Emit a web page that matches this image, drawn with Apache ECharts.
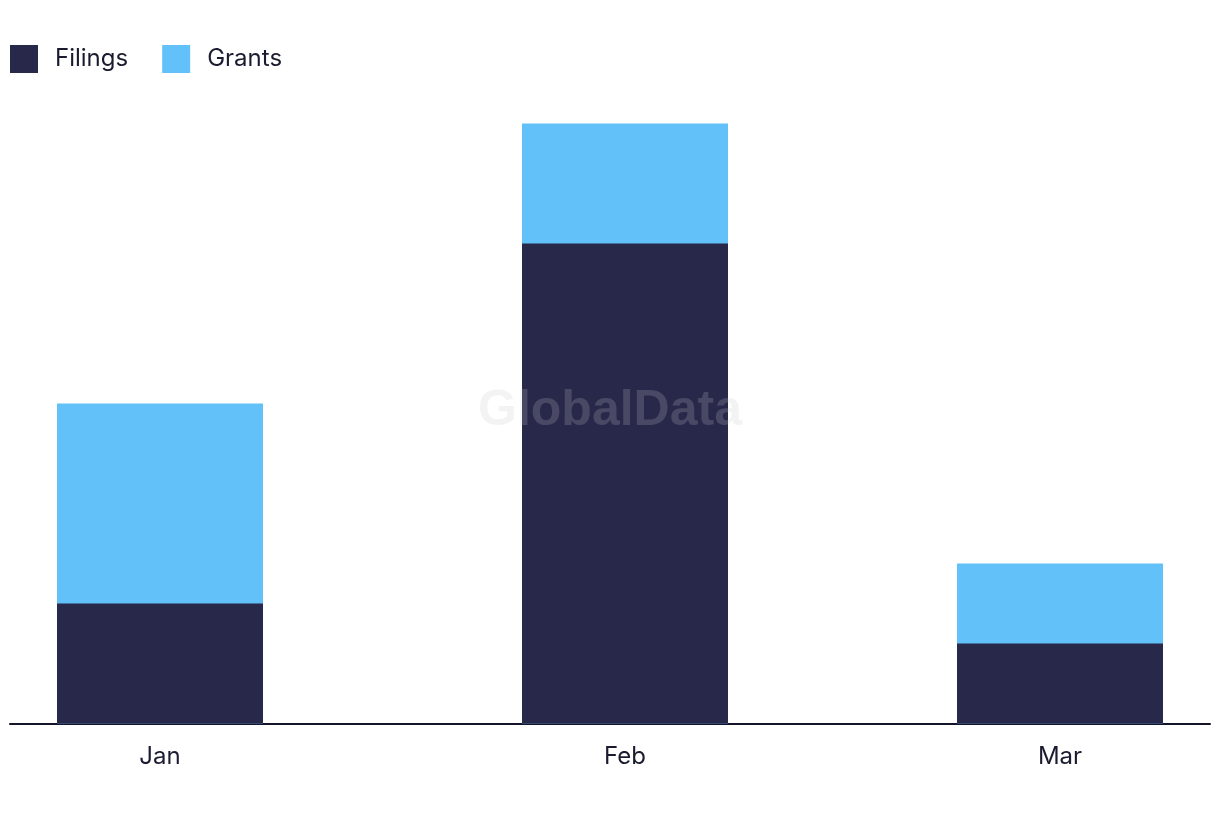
<!DOCTYPE html>
<html>
<head>
<meta charset="utf-8">
<script src="https://cdn.jsdelivr.net/npm/echarts@6/dist/echarts.min.js"></script>
<style>html,body{margin:0;padding:0;background:#fff}#c{width:1220px;height:822px}</style>
</head>
<body>
<div id="c"></div>
<script>
// Data
const monthDates = ['2024-01-01', '2024-02-01', '2024-03-01'];
const monthLabels = ['Jan', 'Feb', 'Mar'];
const filings = [3, 12, 2];
const grants = [5, 3, 2];
const seriesNames = ['Filings', 'Grants'];
const axisStart = '2023-12-22';
const axisEnd = '2024-03-11';

const DAY = 86400000;
const toDay = s => { const p = s.split('-').map(Number); return Math.round(Date.UTC(p[0], p[1] - 1, p[2]) / DAY); };
const base = toDay(monthDates[0]);
const xs = monthDates.map(d => toDay(d) - base);
const labelByX = {};
xs.forEach((x, i) => labelByX[x] = monthLabels[i]);
// stacked top of each column (grants sit on top of filings)
const stackTop = filings.map((f, i) => f + grants[i]);

const chart = echarts.init(document.getElementById('c'), null, {renderer: 'canvas'});
const textColor = '#1b1b30';
chart.setOption({
  animation: false,
  color: ['#28284b', '#62c1f9'],
  legend: {
    left: 10, top: 45, padding: 0,
    itemWidth: 28, itemHeight: 28, itemGap: 34,
    icon: 'rect',
    textStyle: {fontFamily: 'Inter', fontSize: 24, color: textColor, padding: [0, 0, 0, 12]},
    data: seriesNames
  },
  grid: {left: 10, right: 10, top: 123.5, bottom: 98.5, containLabel: false},
  xAxis: {
    type: 'value',
    min: toDay(axisStart) - base,
    max: toDay(axisEnd) - base,
    axisLine: {show: true, lineStyle: {color: '#15152a', width: 2}},
    axisTick: {show: false},
    splitLine: {show: false},
    axisLabel: {
      customValues: xs,
      formatter: v => labelByX[v] || '',
      fontFamily: 'Inter', fontSize: 24, color: textColor, margin: 21
    }
  },
  yAxis: {
    type: 'value', min: 0, max: 15,
    show: false, splitLine: {show: false}
  },
  series: [
    {name: seriesNames[0], type: 'bar', barWidth: 206, barGap: '-100%', z: 3,
     data: xs.map((x, i) => [x, filings[i]])},
    {name: seriesNames[1], type: 'bar', barWidth: 206, barGap: '-100%', z: 2,
     data: xs.map((x, i) => [x, stackTop[i]])}
  ],
  graphic: [{
    type: 'text', x: 610, y: 411, z: 100, silent: true,
    style: {
      text: 'GlobalData', fontFamily: 'Liberation Sans', fontWeight: 'bold', fontSize: 50,
      fill: 'rgba(199,199,199,0.21)', align: 'center', verticalAlign: 'middle'
    }
  }]
});
</script>
</body>
</html>
